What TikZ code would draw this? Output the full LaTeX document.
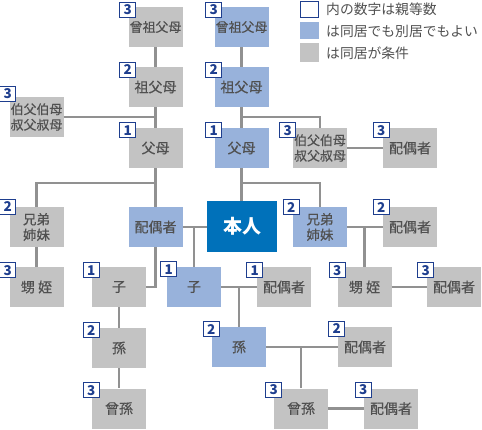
\documentclass[tikz,border=0pt]{standalone}
\usepackage{fontspec}
\setmainfont{Noto Sans CJK JP}
\newfontfamily\boxfont{Noto Sans CJK JP}[FakeBold=0.4]
\definecolor{boxgray}{RGB}{195,195,195}
\definecolor{boxblue}{RGB}{152,178,219}
\definecolor{selfblue}{RGB}{0,113,186}
\definecolor{txtgray}{RGB}{80,80,80}
\definecolor{linegray}{RGB}{145,145,145}
\definecolor{badgeblue}{RGB}{30,62,142}
\tikzset{
  kin/.style={minimum width=54pt, minimum height=40pt, inner sep=0pt, text=txtgray,
    font=\boxfont\fontsize{14}{16}\selectfont, align=center},
  gbox/.style={kin, fill=boxgray},
  bbox/.style={kin, fill=boxblue},
  small/.style={font=\boxfont\fontsize{12.9}{15.5}\selectfont},
  twoline/.style={font=\boxfont\fontsize{13.5}{15.5}\selectfont},
  badge/.style={draw=badgeblue, line width=1.3pt, fill=white, minimum width=16pt,
    minimum height=15pt, inner sep=0pt, text=badgeblue, font=\fontsize{13.5}{13.5}\selectfont\bfseries},
  conn/.style={draw=linegray, line width=2.8pt},
  legtext/.style={anchor=west, inner sep=0pt, text=txtgray, font=\fontsize{13.8}{15}\selectfont},
}
\begin{document}
\begin{tikzpicture}[x=1pt,y=-1pt]
\useasboundingbox (0,0) rectangle (482,430);
% left ancestry column
\node[gbox,small] (ggpL) at (155.5,27) {曾祖父母};
\node[gbox] (gpL) at (155.5,87) {祖父母};
\node[gbox] (pL) at (155.5,148) {父母};
\node[bbox] (sp) at (155.5,227) {配偶者};
\node[gbox,small] (uncleL) at (36.5,117) {伯父伯母\\叔父叔母};
\node[gbox,twoline] (sibL) at (36.5,227) {兄弟\\姉妹};
\node[gbox] (nepL) at (36.5,287) {甥 姪};
% right ancestry column
\node[bbox,small] (ggpR) at (241.5,27) {曾祖父母};
\node[bbox] (gpR) at (241.5,87) {祖父母};
\node[bbox] (pR) at (241.5,148) {父母};
\node[fill=selfblue, minimum width=70pt, minimum height=51pt, inner sep=0pt, text=white,
  font=\fontsize{19}{20}\selectfont\bfseries] (self) at (242,226.5) {本人};
\node[gbox,small] (uncleR) at (320,148) {伯父伯母\\叔父叔母};
\node[gbox] (uncleRsp) at (410,148) {配偶者};
\node[bbox,twoline] (sibR) at (320,227) {兄弟\\姉妹};
\node[gbox] (sibRsp) at (410,227) {配偶者};
\node[gbox] (nepR) at (364.5,287) {甥 姪};
\node[gbox] (nepRsp) at (454,287) {配偶者};
% descendants
\node[gbox] (childG) at (119,287) {子};
\node[gbox] (gcG) at (119,348) {孫};
\node[gbox] (ggcG) at (119,408.5) {曾孫};
\node[bbox] (childB) at (194,287) {子};
\node[gbox] (childBsp) at (284,287) {配偶者};
\node[bbox] (gcB) at (239,347) {孫};
\node[gbox] (gcBsp) at (365,347) {配偶者};
\node[gbox] (ggcR) at (301,408.5) {曾孫};
\node[gbox] (ggcRsp) at (391,408.5) {配偶者};
% junctions
\coordinate (jL1) at (155.5,117);
\coordinate (jL2) at (155.5,183);
\coordinate (jR1) at (241.5,117);
\coordinate (jR2) at (241.5,183);
% connectors
\draw[conn] (ggpL) -- (gpL);
\draw[conn] (gpL) -- (pL);
\draw[conn] (pL) -- (sp);
\draw[conn] (uncleL.east) -- (jL1);
\draw[conn] (jL2) -| (sibL.north);
\draw[conn] (sibL) -- (nepL);
\draw[conn] (ggpR) -- (gpR);
\draw[conn] (gpR) -- (pR);
\draw[conn] (pR) -- (pR.south |- self.north);
\draw[conn] (jR1) -| (uncleR.north);
\draw[conn] (jR2) -| (sibR.north);
\draw[conn] (uncleR) -- (uncleRsp);
\draw[conn] (sibR) -- (sibRsp);
\draw[conn] (sibR.east -| nepR.north) -- (nepR.north);
\draw[conn] (nepR) -- (nepRsp);
\draw[conn] (sp.east) -- (sp.east -| self.west);
\draw[conn] (sp.east -| childB.north) -- (childB.north);
\draw[conn] (sp.south) |- (childG.east);
\draw[conn] (childG) -- (gcG);
\draw[conn] (gcG) -- (ggcG);
\draw[conn] (childB) -- (childBsp);
\draw[conn] (childB.east -| gcB.north) -- (gcB.north);
\draw[conn] (gcB) -- (gcBsp);
\draw[conn] (gcB.east -| ggcR.north) -- (ggcR.north);
\draw[conn] (ggcR) -- (ggcRsp);
% badges
\node[badge] (bggpL) at ([shift={(-0.5,3)}]ggpL.north west) {3};
\node[badge] (bgpL) at ([shift={(-0.5,3)}]gpL.north west) {2};
\node[badge] (bpL) at ([shift={(-0.5,2.5)}]pL.north west) {1};
\node[badge] (buncleL) at ([shift={(-1.5,-3)}]uncleL.north west) {3};
\node[badge] (bsibL) at ([shift={(-1.5,0)}]sibL.north west) {2};
\node[badge] (bnepL) at ([shift={(-1.5,3.5)}]nepL.north west) {3};
\node[badge] (bggpR) at ([shift={(-0.5,3)}]ggpR.north west) {3};
\node[badge] (bgpR) at ([shift={(-0.5,3)}]gpR.north west) {2};
\node[badge] (bpR) at ([shift={(-0.5,2.5)}]pR.north west) {1};
\node[badge] (buncleR) at ([shift={(-5,2.5)}]uncleR.north west) {3};
\node[badge] (buncleRsp) at ([shift={(-1.5,2.5)}]uncleRsp.north west) {3};
\node[badge] (bsibR) at ([shift={(-1.5,0.5)}]sibR.north west) {2};
\node[badge] (bsibRsp) at ([shift={(-1.5,0.5)}]sibRsp.north west) {2};
\node[badge] (bnepR) at ([shift={(0,3.5)}]nepR.north west) {3};
\node[badge] (bnepRsp) at ([shift={(-1,3.5)}]nepRsp.north west) {3};
\node[badge] (bchildG) at ([shift={(-0.5,3.5)}]childG.north west) {1};
\node[badge] (bgcG) at ([shift={(-0.5,2.5)}]gcG.north west) {2};
\node[badge] (bggcG) at ([shift={(-0.5,2)}]ggcG.north west) {3};
\node[badge] (bchildB) at ([shift={(2,2.5)}]childB.north west) {1};
\node[badge] (bchildBsp) at ([shift={(-2,3.5)}]childBsp.north west) {1};
\node[badge] (bgcB) at ([shift={(-0.5,2.5)}]gcB.north west) {2};
\node[badge] (bgcBsp) at ([shift={(-1,2)}]gcBsp.north west) {2};
\node[badge] (bggcR) at ([shift={(0,1.5)}]ggcR.north west) {3};
\node[badge] (bggcRsp) at ([shift={(-0.5,1.5)}]ggcRsp.north west) {3};
% legend
\node[draw=badgeblue, line width=1.3pt, fill=white, minimum width=17.5pt, minimum height=15.5pt, inner sep=0pt] (lg1) at (309.5,9.5) {};
\node[fill=boxblue, minimum width=19pt, minimum height=17pt, inner sep=0pt] (lg2) at (309.5,30.5) {};
\node[fill=boxgray, minimum width=19pt, minimum height=19pt, inner sep=0pt] (lg3) at (309.5,52.5) {};
\node[legtext] (lt1) at (326,9) {内の数字は親等数};
\node[legtext] (lt2) at (326,31) {は同居でも別居でもよい};
\node[legtext] (lt3) at (326,53) {は同居が条件};
\end{tikzpicture}
\end{document}
